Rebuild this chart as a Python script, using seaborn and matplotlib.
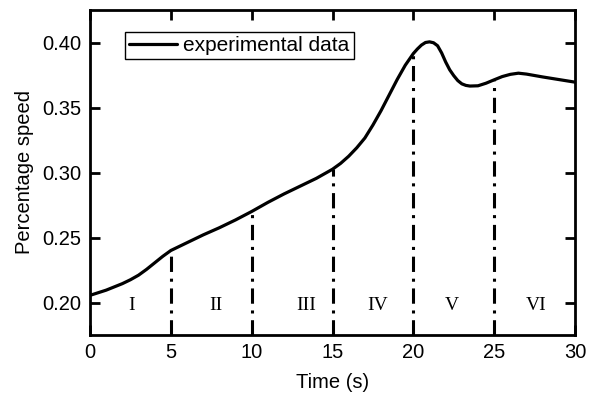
import matplotlib
matplotlib.use("Agg")
import matplotlib.pyplot as plt
import seaborn as sns
import pandas as pd
import numpy as np

time_s = [0, 1, 2, 2.5, 3, 3.5, 4, 4.5, 5, 6, 7, 8, 9, 10, 11, 12, 13, 14, 15,
          15.5, 16, 16.5, 17, 17.5, 18, 18.5, 19, 19.5, 20, 20.25, 20.5, 20.75,
          21, 21.25, 21.5, 21.75, 22, 22.25, 22.5, 22.75, 23, 23.25, 23.5, 24,
          24.5, 25, 25.5, 26, 26.5, 27, 28, 29, 30]
speed = [0.2055, 0.2095, 0.2145, 0.2175, 0.221, 0.2255, 0.2305, 0.2355, 0.240,
         0.246, 0.252, 0.2575, 0.2635, 0.270, 0.277, 0.2835, 0.2895, 0.2955,
         0.3025, 0.307, 0.3125, 0.319, 0.3265, 0.3365, 0.3475, 0.3595, 0.3715,
         0.3825, 0.3915, 0.395, 0.398, 0.4, 0.4005, 0.3998, 0.3975, 0.392,
         0.385, 0.379, 0.3745, 0.3707, 0.3682, 0.367, 0.3665, 0.3667, 0.3687,
         0.3713, 0.3738, 0.3755, 0.3764, 0.3757, 0.3735, 0.3715, 0.3695]

boundaries = [5, 10, 15, 20, 25]
phase_labels = ["I", "II", "III", "IV", "V", "VI"]
phase_x = [2.6, 7.8, 13.4, 17.8, 22.4, 27.6]
phase_y = 0.1975

x_ticks = [0, 5, 10, 15, 20, 25, 30]
y_ticks = [0.20, 0.25, 0.30, 0.35, 0.40]

sns.set_style("ticks", {"axes.edgecolor": "black", "text.color": "black",
                        "axes.labelcolor": "black", "xtick.color": "black",
                        "ytick.color": "black"})
plt.rcParams['font.family'] = ['Liberation Sans', 'DejaVu Sans']

df = pd.DataFrame({"Time (s)": time_s, "Percentage speed": speed})

fig = plt.figure(figsize=(5.97, 3.99), dpi=100)
ax = fig.add_axes([90/597, 1-335/399, (575-90)/597, (335-10)/399])

sns.lineplot(data=df, x="Time (s)", y="Percentage speed", ax=ax, color="black",
             linewidth=2.3, label="experimental data")

tops = np.interp(boundaries, time_s, speed)
ymin = 0.175
ax.vlines(boundaries, ymin, tops, colors="black", linewidth=2.2,
          linestyles=(0, (5, 2.2, 1, 2.2)))

for lab, px in zip(phase_labels, phase_x):
    ax.text(px, phase_y, lab, family=["Liberation Serif", "DejaVu Serif"],
            fontsize=14, ha="center", va="center", color="black")

ax.set_xlim(0, 30)
ax.set_ylim(ymin, 0.425)
ax.set_xticks(x_ticks)
ax.set_yticks(y_ticks)
ax.set_yticklabels([f"{v:.2f}" for v in y_ticks])
ax.tick_params(direction="in", length=7, width=2, labelsize=14.5,
               top=True, right=True, labeltop=False, labelright=False, pad=6,
               colors="black")
for s in ax.spines.values():
    s.set_visible(True)
    s.set_linewidth(2)
    s.set_color("black")
ax.set_xlabel("Time (s)", fontsize=14.5, labelpad=8, color="black")
ax.set_ylabel("Percentage speed", fontsize=14.5, labelpad=6, color="black")

leg = ax.legend(loc="upper left", bbox_to_anchor=(35/485, 1-22/325), fontsize=15,
                frameon=True, fancybox=False, edgecolor="black", framealpha=1,
                borderpad=0.2, handlelength=2.3, handletextpad=0.3,
                borderaxespad=0)
leg.get_frame().set_linewidth(1)
for t in leg.get_texts():
    t.set_color("black")

fig.savefig("out.png", dpi=100)
